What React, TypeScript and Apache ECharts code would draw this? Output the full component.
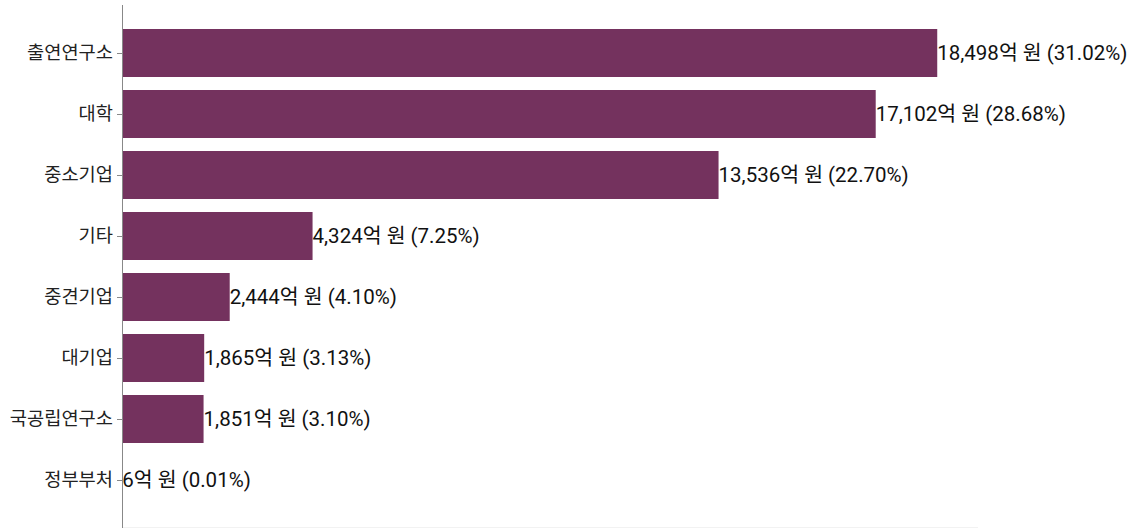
import React, { useEffect, useRef } from "react";
import * as echarts from "echarts";

const categories = ["출연연구소", "대학", "중소기업", "기타", "중견기업", "대기업", "국공립연구소", "정부부처"];
const values = [18498, 17102, 13536, 4324, 2444, 1865, 1851, 6];
const percents = ["31.02", "28.68", "22.70", "7.25", "4.10", "3.13", "3.10", "0.01"];

const FONT = "Roboto, 'Noto Sans CJK KR', sans-serif";

export default function App() {
  const ref = useRef<HTMLDivElement>(null);
  useEffect(() => {
    if (!ref.current) return;
    const chart = echarts.init(ref.current, undefined, { renderer: "svg" });
    const maxV = Math.max(...values) * 1.05;
    chart.setOption({
      animation: false,
      grid: { left: 122, top: 22.5, width: 856, height: 488, containLabel: false },
      xAxis: {
        type: "value",
        min: 0,
        max: maxV,
        show: false,
      },
      yAxis: {
        type: "category",
        data: categories,
        inverse: true,
        axisLine: { show: false },
        axisTick: { show: true, alignWithLabel: true, length: 5, lineStyle: { color: "#888" } },
        axisLabel: { color: "#222", fontSize: 18.7, fontFamily: FONT, margin: 9 },
      },
      graphic: [
        { type: "line", shape: { x1: 122.5, y1: 5, x2: 122.5, y2: 528 }, style: { stroke: "#888", lineWidth: 1 }, z: 10 },
        { type: "line", shape: { x1: 122, y1: 527.5, x2: 978, y2: 527.5 }, style: { stroke: "#f2f2f2", lineWidth: 1 }, z: 5 },
      ],
      series: [
        {
          type: "bar",
          data: values,
          barCategoryGap: "21%",
          itemStyle: { color: "#74325e" },
          label: {
            show: true,
            position: "right",
            distance: 0,
            color: "#111",
            fontSize: 20.5,
            fontFamily: FONT,
            formatter: (p: any) => `${values[p.dataIndex].toLocaleString("en-US")}억 원 (${percents[p.dataIndex]}%)`,
          },
        },
      ],
    });
    return () => chart.dispose();
  }, []);
  return <div ref={ref} style={{ width: 1138, height: 528, position: "absolute", left: 0, top: 0 }} />;
}
